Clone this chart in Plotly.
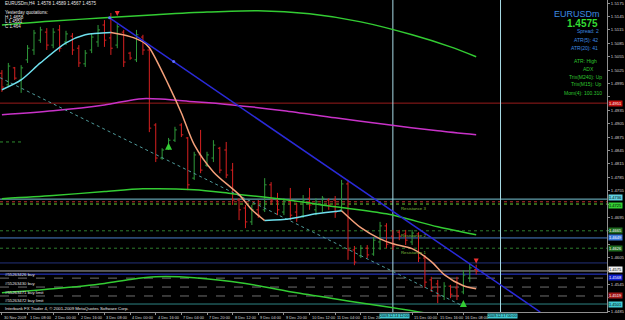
import plotly.graph_objects as go

FONT = "Liberation Sans"

# ---------------- data ----------------
bar_index = list(range(75))
opens = [1.5018,1.4992,1.5030,1.5003,1.5048,1.5070,1.5092,1.5110,1.5081,1.5115,
         1.5088,1.5101,1.5074,1.5039,1.5070,1.5088,1.5126,1.5097,1.5081,1.5110,
         1.5063,1.5048,1.5099,1.5070,1.4902,1.4828,1.4850,1.4868,1.4902,1.4873,
         1.4783,1.4835,1.4812,1.4828,1.4850,1.4846,1.4801,1.4734,1.4716,1.4685,
         1.4712,1.4712,1.4768,1.4734,1.4707,1.4730,1.4707,1.4698,1.4738,1.4712,
         1.4723,1.4734,1.4734,1.4712,1.4770,1.4622,1.4609,1.4626,1.4613,1.4640,
         1.4676,1.4653,1.4662,1.4658,1.4640,1.4658,1.4604,1.4555,1.4546,1.4519,
         1.4541,1.4537,1.4528,1.4559,1.4578]
highs = [1.5025,1.5041,1.5032,1.5036,1.5081,1.5115,1.5122,1.5119,1.5119,1.5126,
         1.5113,1.5108,1.5081,1.5070,1.5108,1.5126,1.5137,1.5153,1.5128,1.5115,
         1.5066,1.5115,1.5104,1.5077,1.4906,1.4850,1.4873,1.4898,1.4906,1.4875,
         1.4842,1.4891,1.4842,1.4868,1.4853,1.4864,1.4817,1.4738,1.4723,1.4723,
         1.4734,1.4783,1.4774,1.4750,1.4738,1.4761,1.4727,1.4745,1.4761,1.4738,
         1.4743,1.4738,1.4743,1.4779,1.4779,1.4631,1.4633,1.4633,1.4651,1.4685,
         1.4682,1.4667,1.4667,1.4667,1.4667,1.4662,1.4611,1.4562,1.4555,1.4550,
         1.4544,1.4562,1.4577,1.4591,1.4589]
lows = [1.4976,1.4987,1.5003,1.4974,1.5041,1.5059,1.5086,1.5070,1.5074,1.5066,
        1.5081,1.5059,1.5032,1.5032,1.5063,1.5077,1.5077,1.5059,1.5074,1.5032,
        1.5048,1.5043,1.5059,1.4886,1.4819,1.4824,1.4846,1.4864,1.4875,1.4756,
        1.4779,1.4794,1.4808,1.4819,1.4794,1.4783,1.4723,1.4689,1.4671,1.4678,
        1.4694,1.4707,1.4723,1.4700,1.4700,1.4689,1.4685,1.4694,1.4712,1.4700,
        1.4707,1.4712,1.4694,1.4707,1.4600,1.4588,1.4604,1.4604,1.4609,1.4622,
        1.4626,1.4622,1.4644,1.4633,1.4633,1.4595,1.4537,1.4528,1.4503,1.4510,
        1.4514,1.4510,1.4523,1.4550,1.4567]
closes = [1.4987,1.5034,1.5007,1.5030,1.5074,1.5108,1.5115,1.5081,1.5110,1.5074,
          1.5106,1.5070,1.5041,1.5063,1.5099,1.5115,1.5092,1.5074,1.5122,1.5043,
          1.5052,1.5104,1.5070,1.4895,1.4828,1.4846,1.4868,1.4891,1.4880,1.4768,
          1.4835,1.4801,1.4835,1.4857,1.4801,1.4790,1.4734,1.4712,1.4685,1.4712,
          1.4700,1.4768,1.4734,1.4712,1.4730,1.4700,1.4694,1.4734,1.4723,1.4730,
          1.4738,1.4723,1.4707,1.4770,1.4622,1.4595,1.4626,1.4611,1.4644,1.4676,
          1.4635,1.4631,1.4653,1.4644,1.4660,1.4604,1.4550,1.4537,1.4521,1.4541,
          1.4523,1.4519,1.4566,1.4582,1.4575]

date_tick_index = [0,4,8,12,16,20,24,28,32,36,40,44,48,52,56,64,68,72]
date_tick_labels = ["30 Nov 2009","1 Dec 08:00","2 Dec 00:00","2 Dec 16:00","3 Dec 08:00",
                    "4 Dec 00:00","4 Dec 16:00","7 Dec 04:00","7 Dec 20:00","8 Dec 12:00",
                    "9 Dec 04:00","9 Dec 20:00","10 Dec 12:00","11 Dec 04:00","11 Dec 20",
                    "15 Dec 00:00","15 Dec 16:00","16 Dec 08:00"]

y_tick_labels = ["1.5175","1.5145","1.5115","1.5085","1.5055","1.5025","1.4995","1.4965",
                 "1.4935","1.4905","1.4875","1.4845","1.4815","1.4785","1.4755","1.4725",
                 "1.4695","1.4665","1.4635","1.4605","1.4575","1.4545","1.4515","1.4485"]

green_top_x = [0,8,16,24,32,40,48,56,64,70,74]
green_top_y = [1.5126,1.5135,1.5142,1.5149,1.5155,1.5158,1.5151,1.5133,1.5104,1.5077,1.5055]
magenta_x = [0,8,16,22,30,36,44,52,60,68,74]
magenta_y = [1.4925,1.4934,1.4947,1.4961,1.4954,1.4947,1.4934,1.4918,1.4903,1.4889,1.4880]
green_mid_x = [0,8,16,22,30,36,44,52,60,68,74]
green_mid_y = [1.4737,1.4744,1.4753,1.4759,1.4757,1.4748,1.4735,1.4719,1.4703,1.4674,1.4656]
green_low_x = [0,8,16,20,24,30,38,46,54,60,66,70]
green_low_y = [1.4526,1.4535,1.4547,1.4556,1.4562,1.4560,1.4547,1.4526,1.4508,1.4495,1.4481,1.4470]

hma_up1_x = [0,3,6,10,13,17]
hma_up1_y = [1.4981,1.5003,1.5041,1.5086,1.5104,1.5109]
hma_dn1_x = [17,20,22,23,26,28,30,33,37,39,41]
hma_dn1_y = [1.5109,1.5100,1.5088,1.5075,1.4992,1.4929,1.4858,1.4797,1.4746,1.4712,1.4688]
hma_up2_x = [41,45,49,53]
hma_up2_y = [1.4688,1.4692,1.4703,1.4710]
hma_dn2_x = [53,56,59,61,64,67,69,72,74]
hma_dn2_y = [1.4710,1.4672,1.4647,1.4636,1.4625,1.4596,1.4567,1.4542,1.4535]

trend_x = [16.8, 84.0]
trend_y = [1.5142, 1.4483]
trend_anchor_x = [16.8, 26.8]
trend_anchor_y = [1.5142, 1.5044]
diag_x = [-0.3, 72.0]
diag_y = [1.5008, 1.4496]

# horizontal levels
level_prices = [1.4951, 1.4736, 1.4730, 1.4725, 1.4665, 1.4649, 1.4626, 1.4593, 1.4575, 1.4568]
level_colors = ["#9a1c1c", "#78c4d4", "#c03030", "#66cc33", "#2e7d2e", "#4a7fc8", "#2e7d2e", "#22307a", "#a8a8a8", "#2a3ce0"]
level_dash = ["solid", "solid", "dot", "dot", "dot", "solid", "dot", "solid", "solid", "solid"]
level_texts = ["", "", "", "Resistance 3", "Resistance 2", "", "Resistance 1", "", "", ""]

axis_box_prices = [1.4951, 1.4736, 1.4725, 1.4665, 1.4649, 1.4626, 1.4575, 1.4568, 1.4519, 1.4501]
axis_box_colors = ["#c01010", "#60d0e0", "#33cc33", "#1f6b1f", "#3a78d8", "#1f6b1f", "#f0f0f0", "#1020d0", "#a01818", "#40c8d0"]
axis_box_font = ["#ffffff", "#000000", "#000000", "#ffffff", "#ffffff", "#ffffff", "#000000", "#ffffff", "#ffffff", "#000000"]

order_prices = [1.4559, 1.4539, 1.4519, 1.4501]
order_labels = ["#55263426 buy", "#55263430 buy", "#55263471 buy limit", "#55263472 buy limit"]

vline_pos = [61, 77.8]
vline_labels = ["2009.12.14 12:00", "2009.12.17 00:00"]

up_arrows_x = [26, 72]
up_arrows_y = [1.4862, 1.4510]
down_arrows_x = [18, 74]
down_arrows_y = [1.5146, 1.4592]

# ---------------- figure ----------------
W, H = 625, 320
ML, MR, MT, MB = 0, 16, 0, 8
PW, PH = W - ML - MR, H - MT - MB
PX_PER_PRICE = 1 / 0.000224
YMAX = 1.5182
YMIN = YMAX - PH / PX_PER_PRICE

fig = go.Figure()

shapes = []
for p, c, d in zip(level_prices, level_colors, level_dash):
    shapes.append(dict(type="line", xref="paper", x0=0, x1=1, yref="y", y0=p, y1=p,
                       line=dict(color=c, width=1, dash=d), layer="below"))
shapes.append(dict(type="line", xref="x", x0=-0.3, x1=3.2, yref="y", y0=1.4864, y1=1.4864,
                   line=dict(color="#2e8b2e", width=1, dash="dot"), layer="below"))
for i, p in enumerate(order_prices):
    col = "#3aa6a6" if i == 3 else "#8c8c8c"
    shapes.append(dict(type="line", xref="paper", x0=0, x1=1, yref="y", y0=p, y1=p,
                       line=dict(color=col, width=0.8, dash="dash" if i < 3 else "solid"), layer="below"))
for v in vline_pos:
    shapes.append(dict(type="line", xref="x", x0=v, x1=v, yref="paper", y0=0, y1=1,
                       line=dict(color="#a8dce6", width=1), layer="below"))

def line(x, y, color, width=1.5, dash="solid", shape="spline"):
    fig.add_trace(go.Scatter(x=x, y=y, mode="lines", line=dict(color=color, width=width, dash=dash,
                             shape=shape, smoothing=0.8), hoverinfo="skip", showlegend=False))

line(green_top_x, green_top_y, "#33cc33")
line(magenta_x, magenta_y, "#c832c8")
line(green_mid_x, green_mid_y, "#33cc33")
line(green_low_x, green_low_y, "#33cc33")
line(diag_x, diag_y, "#4f9a9a", width=1, dash="dot", shape="linear")

fig.add_trace(go.Ohlc(x=bar_index, open=opens, high=highs, low=lows, close=closes,
                      increasing=dict(line=dict(color="#2f9a3a", width=1)),
                      decreasing=dict(line=dict(color="#d82020", width=1)),
                      tickwidth=0.3, hoverinfo="skip", showlegend=False))

line(hma_up1_x, hma_up1_y, "#6fe0ee")
line(hma_dn1_x, hma_dn1_y, "#f4a07a")
line(hma_up2_x, hma_up2_y, "#6fe0ee")
line(hma_dn2_x, hma_dn2_y, "#f4a07a")
line(trend_x, trend_y, "#2a2ad8", width=1.5, shape="linear")
fig.add_trace(go.Scatter(x=trend_anchor_x, y=trend_anchor_y, mode="markers",
                         marker=dict(color="#6070ff", size=3), hoverinfo="skip", showlegend=False))
fig.add_trace(go.Scatter(x=up_arrows_x, y=up_arrows_y, mode="markers",
                         marker=dict(color="#33cc33", size=7, symbol="arrow-up"),
                         hoverinfo="skip", showlegend=False))
fig.add_trace(go.Scatter(x=down_arrows_x, y=down_arrows_y, mode="markers",
                         marker=dict(color="#ee3030", size=5, symbol="arrow-down"),
                         hoverinfo="skip", showlegend=False))

ann = []
def txt(x, y, s, size, color, xanchor="left", yanchor="middle"):
    ann.append(dict(xref="paper", yref="paper", x=x / PW, y=1 - y / PH, text=s, showarrow=False,
                    xanchor=xanchor, yanchor=yanchor, font=dict(size=size, color=color, family=FONT)))

txt(3, 4, "EURUSDm,H4  1.4578 1.4589 1.4567 1.4575", 4.5, "#e6e6e6")
txt(3, 12.5, "Yesterday quotations:", 4.5, "#e6e6e6")
txt(3, 17, "H 1.4658", 4.5, "#e6e6e6")
txt(3, 21.5, "L 1.4551", 4.5, "#e6e6e6")
txt(3, 26, "C 1.464", 4.5, "#e6e6e6")

blue_t, green_t = "#3d8ae0", "#2fc42f"
txt(604, 14, "EURUSDm", 9, blue_t, "right")
txt(602, 24, "<b>1.4575</b>", 10, "#33dd33", "right")
txt(603, 31, "Spread: 2", 5, blue_t, "right")
txt(602, 40, "ATR(5): 42", 5, blue_t, "right")
txt(602, 48, "ATR(20): 41", 5, blue_t, "right")
txt(601, 61, "ATR: High", 5, green_t, "right")
txt(598, 69, "ADX", 5, green_t, "right")
txt(606, 77, "Trix(M240): Up", 5, green_t, "right")
txt(606, 84.5, "Trix(M15): Up", 5, green_t, "right")
txt(606, 93, "Mom(4): 100.310", 5, green_t, "right")

txt(3, 308.5, "Interbank FX Trader 4, © 2001-2009 MetaQuotes Software Corp.", 4.3, "#e6e6e6")

for p, t in zip(level_prices, level_texts):
    if t:
        ann.append(dict(xref="x", yref="y", x=61.9, y=p, text=t, showarrow=False, xanchor="left",
                        yanchor="top", font=dict(size=4.3, color="#7fbf3f", family=FONT)))

for p, t in zip(order_prices, order_labels):
    ann.append(dict(xref="paper", yref="y", x=3 / PW, y=p, text=t, showarrow=False, xanchor="left",
                    yanchor="bottom", yshift=-1, font=dict(size=4.3, color="#e0e0e0", family=FONT)))

# price boxes on the axis (stacked boxes nudged apart as on the terminal)
box_shift = [0, 1.5, -1.5, 0, 0, 0, 1.5, -3, 0, 0]
for p, c, fc, s in zip(axis_box_prices, axis_box_colors, axis_box_font, box_shift):
    ann.append(dict(xref="paper", yref="y", x=1, y=p, text=f"{p:.4f}", showarrow=False,
                    xanchor="left", yanchor="middle", xshift=1, yshift=s, bgcolor=c, borderpad=0,
                    font=dict(size=4, color=fc, family=FONT)))

# tick labels hidden behind a price box
tick_text_shown = []
for s in y_tick_labels:
    covered = any(abs(float(s) - b) * PX_PER_PRICE < 6.5 for b in axis_box_prices)
    tick_text_shown.append("" if covered else s)

for i, t in zip(date_tick_index, date_tick_labels):
    ann.append(dict(xref="x", yref="paper", x=i, y=0, text=t, showarrow=False, xanchor="left",
                    yanchor="top", xshift=0, yshift=-1, font=dict(size=3.9, color="#d8d8d8", family=FONT)))
for v, t in zip(vline_pos, vline_labels):
    ann.append(dict(xref="x", yref="paper", x=v, y=0, text=t, showarrow=False, xanchor="center",
                    yanchor="top", yshift=-1, xshift=2, bgcolor="#40c8d0", borderpad=0,
                    font=dict(size=3.7, color="#000000", family=FONT)))

fig.update_layout(
    width=W, height=H, margin=dict(l=ML, r=MR, t=MT, b=MB),
    paper_bgcolor="#000000", plot_bgcolor="#000000",
    showlegend=False, shapes=shapes, annotations=ann,
    font=dict(family=FONT, color="#d0d0d0", size=5),
    xaxis=dict(range=[-0.3, -0.3 + PW / 6.43], showgrid=False, zeroline=False,
               rangeslider=dict(visible=False), tickvals=date_tick_index, showticklabels=False,
               ticks="outside", ticklen=2, tickcolor="#909090", showline=True,
               linecolor="#909090", linewidth=1, fixedrange=True),
    yaxis=dict(range=[YMIN, YMAX], side="right", showgrid=False, zeroline=False,
               tickvals=[float(s) for s in y_tick_labels], ticktext=tick_text_shown,
               tickfont=dict(size=4.3, color="#d0d0d0", family=FONT), ticks="outside",
               ticklen=2, tickcolor="#909090", showline=True, linecolor="#909090",
               linewidth=1, fixedrange=True),
)

fig.write_html("out.html")
